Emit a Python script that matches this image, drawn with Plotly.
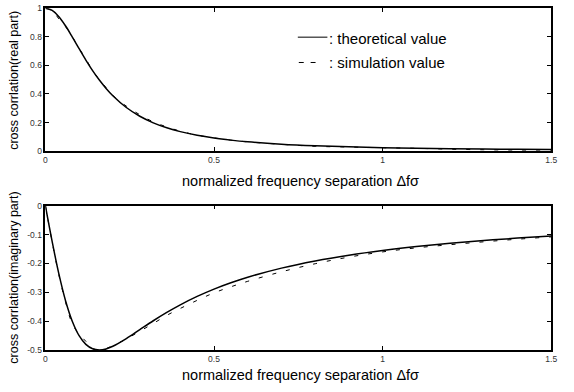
import plotly.graph_objects as go

x = [0, 0.02, 0.04, 0.06, 0.08, 0.10, 0.12, 0.14, 0.16, 0.18, 0.20, 0.24, 0.28, 0.32, 0.36,
     0.40, 0.45, 0.50, 0.55, 0.60, 0.70, 0.80, 0.90, 1.00, 1.10, 1.20, 1.30, 1.40, 1.50]

real_theory = [1.0, 0.9845, 0.9406, 0.8756, 0.7983, 0.7170, 0.6376, 0.5638, 0.4974, 0.4388,
               0.3877, 0.3054, 0.2442, 0.1983, 0.1635, 0.1367, 0.1112, 0.0920, 0.0773, 0.0657,
               0.0492, 0.0381, 0.0303, 0.0247, 0.0205, 0.0173, 0.0148, 0.0128, 0.0111]
real_sim = [1.0, 0.985, 0.925, 0.87, 0.80, 0.72, 0.645, 0.565, 0.50, 0.445,
            0.39, 0.315, 0.255, 0.205, 0.17, 0.14, 0.112, 0.093, 0.077, 0.065,
            0.048, 0.034, 0.029, 0.024, 0.020, 0.014, 0.010, 0.008, 0.008]

imag_theory = [0.0, -0.1237, -0.2364, -0.3301, -0.4013, -0.4505, -0.4807, -0.4959, -0.5000, -0.4963,
               -0.4872, -0.4606, -0.4296, -0.3987, -0.3698, -0.3435, -0.3144, -0.2890, -0.2670, -0.2478,
               -0.2162, -0.1914, -0.1715, -0.1552, -0.1417, -0.1303, -0.1206, -0.1122, -0.1049]
imag_sim = [0.0, -0.125, -0.24, -0.335, -0.41, -0.445, -0.47, -0.495, -0.50, -0.495,
            -0.485, -0.462, -0.435, -0.408, -0.38, -0.356, -0.328, -0.302, -0.281, -0.262,
            -0.229, -0.201, -0.178, -0.160, -0.146, -0.135, -0.125, -0.116, -0.108]

x_ticks = [0, 0.5, 1, 1.5]
x_ticktext = ["0", "0.5", "1", "1.5"]
top_yticks = [0, 0.2, 0.4, 0.6, 0.8, 1]
top_yticktext = ["0", "0.2", "0.4", "0.6", "0.8", "1"]
bot_yticks = [0, -0.1, -0.2, -0.3, -0.4, -0.5]
bot_yticktext = ["0", "-0.1", "-0.2", "-0.3", "-0.4", "-0.5"]

W, H = 574, 392
FONT = "Liberation Sans, Arial, sans-serif"

fig = go.Figure()
fig.add_trace(go.Scatter(x=x, y=real_theory, mode="lines", line=dict(color="black", width=1.5, shape="spline"),
                         xaxis="x", yaxis="y", showlegend=False))
fig.add_trace(go.Scatter(x=x, y=real_sim, mode="lines", line=dict(color="black", width=1, dash="4px,10px", shape="spline"),
                         xaxis="x", yaxis="y", showlegend=False))
fig.add_trace(go.Scatter(x=x, y=imag_theory, mode="lines", line=dict(color="black", width=1.5, shape="spline"),
                         xaxis="x2", yaxis="y2", showlegend=False))
fig.add_trace(go.Scatter(x=x, y=imag_sim, mode="lines", line=dict(color="black", width=1, dash="4px,10px", shape="spline"),
                         xaxis="x2", yaxis="y2", showlegend=False))

def px_x(p):
    return p / W

def px_y(p):
    return 1 - p / H

xdom = [px_x(44), px_x(557)]
axis_common = dict(showgrid=False, zeroline=False, showline=True, linecolor="black", linewidth=1.5,
                   mirror="ticks", ticks="inside", ticklen=4, tickcolor="black",
                   tickfont=dict(size=8.5, color="#333", family=FONT))

fig.update_layout(
    width=W, height=H,
    margin=dict(l=0, r=0, t=0, b=0),
    paper_bgcolor="white", plot_bgcolor="white",
    font=dict(family=FONT, color="black"),
    xaxis=dict(domain=xdom, range=[0, 1.5], tickvals=x_ticks, ticktext=x_ticktext, anchor="y", **axis_common),
    yaxis=dict(domain=[px_y(150), px_y(3.3)], range=[0, 1], tickvals=top_yticks, ticktext=top_yticktext,
               anchor="x", **axis_common),
    xaxis2=dict(domain=xdom, range=[0, 1.5], tickvals=x_ticks, ticktext=x_ticktext, anchor="y2", **axis_common),
    yaxis2=dict(domain=[px_y(354), px_y(206)], range=[-0.5, 0], tickvals=bot_yticks, ticktext=bot_yticktext,
                anchor="x2", **axis_common),
)

ann = []
title_font = dict(size=14.5, family=FONT, color="black")
ann.append(dict(text="normalized frequency separation \u0394f\u03c3", x=px_x(303), y=px_y(181), xref="paper", yref="paper",
                showarrow=False, font=title_font, xanchor="center", yanchor="middle"))
ann.append(dict(text="normalized frequency separation \u0394f\u03c3", x=px_x(303), y=px_y(380), xref="paper", yref="paper",
                showarrow=False, font=title_font, xanchor="center", yanchor="middle"))
ann.append(dict(text="cross corrlation(real part)", x=px_x(12), y=px_y(77), xref="paper", yref="paper",
                showarrow=False, font=dict(size=12.5, family=FONT, color="black"), textangle=-90,
                xanchor="center", yanchor="middle"))
ann.append(dict(text="cross corrlation(imaginary part)", x=px_x(12), y=px_y(280), xref="paper", yref="paper",
                showarrow=False, font=dict(size=12.5, family=FONT, color="black"), textangle=-90,
                xanchor="center", yanchor="middle"))
legend_font = dict(size=15, family=FONT, color="black")
ann.append(dict(text=": theoretical value", x=px_x(330), y=px_y(34), xref="paper", yref="paper",
                showarrow=False, font=legend_font, xanchor="left", yanchor="middle"))
ann.append(dict(text=": simulation value", x=px_x(330), y=px_y(59), xref="paper", yref="paper",
                showarrow=False, font=legend_font, xanchor="left", yanchor="middle"))
fig.update_layout(annotations=ann)

fig.add_shape(type="line", xref="paper", yref="paper", x0=px_x(300), x1=px_x(330), y0=px_y(33), y1=px_y(33),
              line=dict(color="black", width=1))
fig.add_shape(type="line", xref="paper", yref="paper", x0=px_x(301), x1=px_x(306), y0=px_y(59), y1=px_y(59),
              line=dict(color="black", width=1))
fig.add_shape(type="line", xref="paper", yref="paper", x0=px_x(313), x1=px_x(318), y0=px_y(59), y1=px_y(59),
              line=dict(color="black", width=1))

fig.write_html("out.html")
